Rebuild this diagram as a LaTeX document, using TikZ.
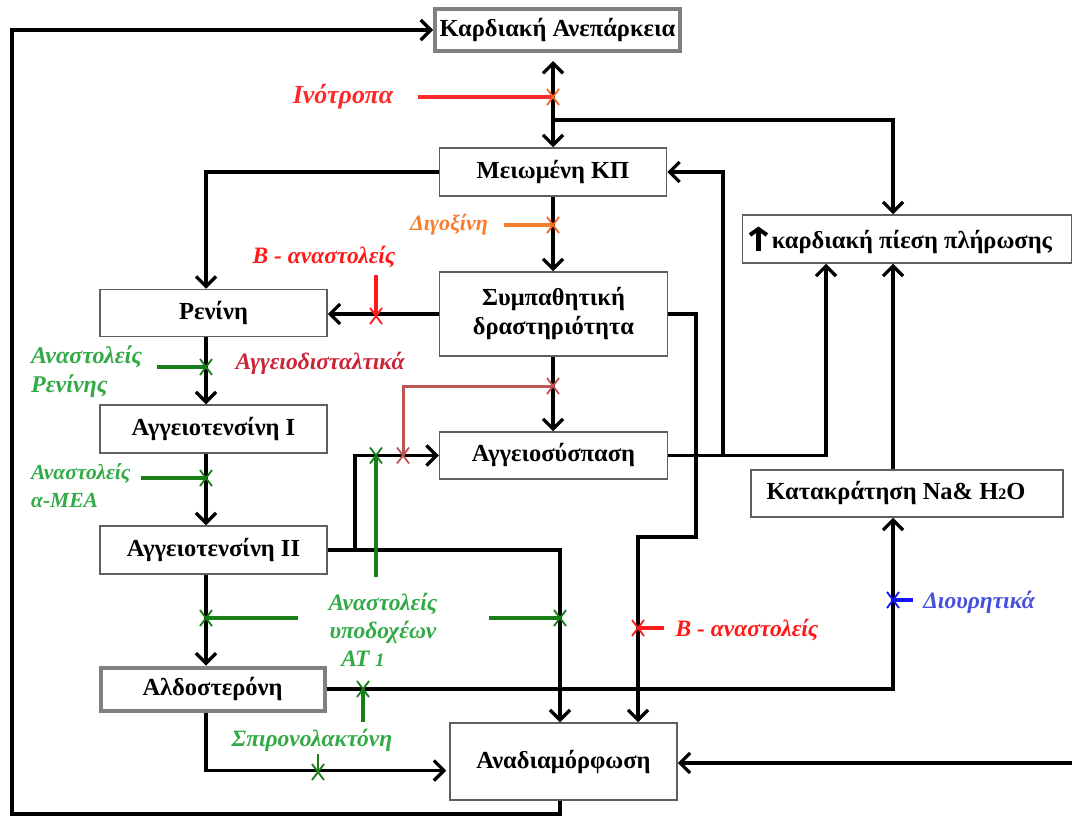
\documentclass[tikz,border=0pt]{standalone}
\usepackage{fontspec}
\setmainfont{Liberation Serif}
\usetikzlibrary{arrows.meta,calc}

\definecolor{boxgray}{RGB}{95,95,95}
\definecolor{framegray}{RGB}{128,128,128}
\definecolor{inored}{RGB}{255,40,40}
\definecolor{xorange}{RGB}{245,105,40}
\definecolor{digorange}{RGB}{250,125,45}
\definecolor{bred}{RGB}{255,25,25}
\definecolor{vasotext}{RGB}{205,35,55}
\definecolor{vasoline}{RGB}{190,85,85}
\definecolor{gtext}{RGB}{50,170,70}
\definecolor{gline}{RGB}{25,125,25}
\definecolor{btext}{RGB}{70,80,220}
\definecolor{bline}{RGB}{20,20,255}

% thick upward arrow used inside a box label
\newcommand{\uparrowmark}{\tikz[baseline=0pt]\draw[line width=4.5pt,
  -{Straight Barb[length=6pt,width=17pt,line width=4pt]}] (0pt,-2pt) -- (0pt,22pt);}

\tikzset{
  box/.style={draw=boxgray, line width=1.5pt, fill=white, inner sep=0pt,
    align=center, font=\bfseries\fontsize{24.5}{29}\selectfont},
  framebox/.style={box, draw=framegray, line width=4pt},
  flow/.style={line width=3.3pt, black},
  tip/.tip={Straight Barb[length=10pt,width=20pt]},
  arr/.style={flow, -tip},
  darr/.style={flow, tip-tip},
  lbl/.style={inner sep=0pt, font=\bfseries\itshape\fontsize{23.5}{28}\selectfont},
  drug/.style={line width=3.5pt},
  xmark/.pic={\draw[line width=1.8pt] (-6,-8) -- (6,8) (-6,8) -- (6,-8);}
}

\begin{document}
\begin{tikzpicture}[x=1pt,y=-1pt]
\useasboundingbox[fill=white] (0,0) rectangle (1072,816);

% boxes
\node[framebox, minimum width=245, minimum height=42] (ka) at (557.5,30) {Καρδιακή Ανεπάρκεια};
\node[box, minimum width=227, minimum height=48] (mkp) at (553,172) {Μειωμένη ΚΠ};
\node[box, minimum width=329, minimum height=48] (kpp) at (907,239)
  {\uparrowmark\hspace{3pt}καρδιακή πίεση πλήρωσης\hspace*{14pt}};
\node[box, minimum width=227, minimum height=47] (ren) at (213.5,313) {Ρενίνη};
\node[box, minimum width=228, minimum height=84] (sd) at (553.5,314) {Συμπαθητική\\δραστηριότητα};
\node[box, minimum width=227, minimum height=48] (ai) at (213.5,429) {Αγγειοτενσίνη Ι};
\node[box, minimum width=228, minimum height=47] (as) at (553.5,455.5) {Αγγειοσύσπαση};
\node[box, minimum width=227, minimum height=48] (aii) at (213.5,550) {Αγγειοτενσίνη ΙΙ};
\node[framebox, minimum width=224, minimum height=43] (ald) at (212.5,689) {Αλδοστερόνη};
\node[box, minimum width=312, minimum height=47] (kat) at (907,493.5)
  {Κατακράτηση Na\& H{\fontsize{16}{16}\selectfont 2}O\hspace*{22pt}};
\node[box, minimum width=227, minimum height=77] (ana) at (563.5,761.5) {Αναδιαμόρφωση};

% column guides
\coordinate (lc) at (206,0);
\coordinate (cc) at (553,0);
\coordinate (kin) at (893,0);
\coordinate (c2) at (355,0);
\coordinate (c6) at (560,0);
\coordinate (c7) at (638,0);
\coordinate (c9) at (723,0);
\coordinate (c10) at (826,0);
\coordinate (br) at (553,120);
\coordinate (sdb) at (696,537);
\coordinate (fbl) at (12,814);
\coordinate (rin) at (1072,763);

% main pathway
\draw[darr, shorten <=8pt] (cc |- ka.south) -- (cc |- mkp.north);
\draw[arr] (br) -| (kin |- kpp.north);
\draw[arr] (mkp.west) -| (lc |- ren.north);
\draw[arr] (cc |- mkp.south) -- (cc |- sd.north);
\draw[arr] (sd.west) -- (sd.west -| ren.east);
\draw[arr] (cc |- sd.south) -- (cc |- as.north);
\draw[arr] (lc |- ren.south) -- (lc |- ai.north);
\draw[arr] (lc |- ai.south) -- (lc |- aii.north);
\draw[arr] (aii.east) -- (c2 |- aii.east) -- (c2 |- as.west) -- (as.west);
\draw[arr] (aii.east) -| (c6 |- ana.north);
\draw[arr] (lc |- aii.south) -- (lc |- ald.north);
\draw[arr] (sd.east) -| (sdb) -| (c7 |- ana.north);
\draw[arr] (as.east) -| (c10 |- kpp.south);
\draw[arr] (c9 |- as.east) |- (mkp.east);
\draw[arr] (kin |- kat.north) -- (kin |- kpp.south);
\draw[arr] (ald.east) -| (kin |- kat.south);
\draw[arr] (lc |- ald.south) |- ($(ana.west)+(-3,9)$);
\draw[arr] (rin) -- (ana.east |- rin);
\draw[arr] (c6 |- ana.south) |- (fbl) |- (ka.west);

% drugs acting on the pathway
\coordinate (ino) at (418,97);
\draw[inored, drug] (ino) -- (cc |- ino);
\pic[xorange] at (cc |- ino) {xmark};
\node[lbl, text=inored, font=\bfseries\itshape\fontsize{26}{28}\selectfont] (tino) at (343,97) {Ινότροπα};

\coordinate (dig) at (504,225);
\draw[digorange, drug] (dig) -- (cc |- dig);
\pic[xorange] at (cc |- dig) {xmark};
\node[lbl, text=digorange, font=\bfseries\itshape\fontsize{22}{24}\selectfont] (tdig) at (449,225) {Διγοξίνη};

\coordinate (bb1) at (376,275);
\draw[bred, drug] (bb1) -- (bb1 |- sd.west);
\pic[bred] at ($(bb1 |- sd.west)+(0,2)$) {xmark};
\node[lbl, text=bred] (tbb1) at (324,257) {Β - αναστολείς};

\coordinate (vx) at (553,386);
\coordinate (vy) at (403,455.5);
\draw[vasoline, line width=3pt] (vx) -| (vy);
\pic[vasoline] at (vx) {xmark};
\pic[vasoline] at (vy) {xmark};
\node[lbl, text=vasotext] (tvaso) at (320,363) {Αγγειοδισταλτικά};

\coordinate (rn) at (157,367);
\draw[gline, drug] (rn) -- (lc |- rn);
\pic[gline] at (lc |- rn) {xmark};
\node[lbl, text=gtext, anchor=west, align=left, font=\bfseries\itshape\fontsize{24}{29}\selectfont] (tren) at (31,372) {Αναστολείς\\Ρενίνης};

\coordinate (ace) at (141,478);
\draw[gline, drug] (ace) -- (lc |- ace);
\pic[gline] at (lc |- ace) {xmark};
\node[lbl, text=gtext, anchor=west, align=left, font=\bfseries\itshape\fontsize{21.5}{28}\selectfont] (tace) at (31,486) {Αναστολείς\\α-ΜΕΑ};

\coordinate (at1) at (376,577);
\draw[gline, drug] (at1) -- (at1 |- as.west);
\pic[gline] at (at1 |- as.west) {xmark};
\coordinate (at2) at (298,618);
\draw[gline, drug] (at2) -- (lc |- at2);
\pic[gline] at (lc |- at2) {xmark};
\coordinate (at3) at (489,618);
\draw[gline, drug] (at3) -- (c6 |- at3);
\pic[gline] at (c6 |- at3) {xmark};
\node[lbl, text=gtext, align=center, font=\bfseries\itshape\fontsize{23.5}{28}\selectfont] (tat) at (383,630) {Αναστολείς\\υποδοχέων\\ΑΤ {\fontsize{19}{19}\selectfont 1}\hspace*{40pt}};

\coordinate (bb2) at (664,628);
\draw[bred, drug] (bb2) -- (c7 |- bb2);
\pic[bred] at (c7 |- bb2) {xmark};
\node[lbl, text=bred] (tbb2) at (747,630) {Β - αναστολείς};

\coordinate (spi) at (363,722);
\draw[gline, drug] (spi) -- (spi |- ald.east);
\pic[gline] at (spi |- ald.east) {xmark};
\node[lbl, text=gtext] (tspi) at (312,740) {Σπιρονολακτόνη};

\coordinate (spb) at (318,754);
\draw[gline, line width=2pt] (spb) -- (318,770);
\pic[gline] at (318,772) {xmark};

\coordinate (diu) at (913,600);
\draw[bline, drug] (diu) -- (kin |- diu);
\pic[bline] at (kin |- diu) {xmark};
\node[lbl, text=btext] (tdiu) at (979,602) {Διουρητικά};

\end{tikzpicture}
\end{document}
